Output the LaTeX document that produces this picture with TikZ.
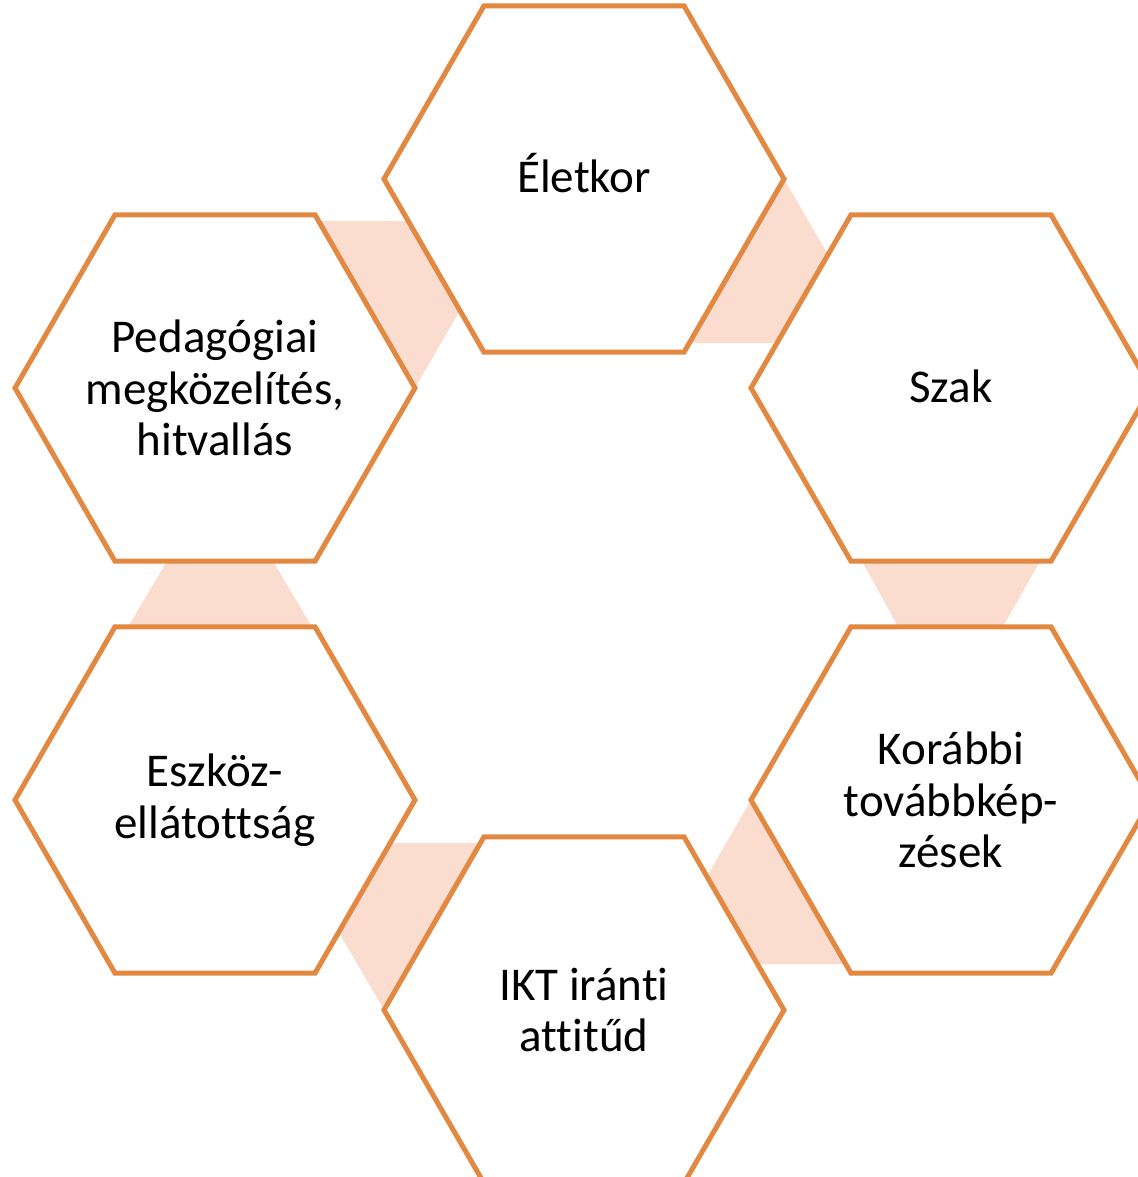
\documentclass[tikz,border=0pt]{standalone}
\usepackage{fontspec}
\setmainfont[Ligatures=NoCommon]{Carlito}
\usetikzlibrary{shapes.geometric,calc,backgrounds}

\definecolor{hexorange}{RGB}{226,136,64}
\definecolor{bandpink}{RGB}{251,221,208}
\newcommand{\hexfont}{\fontsize{23.5pt}{25.75pt}\selectfont}

\begin{document}
\begin{tikzpicture}[
            x=0.5pt, y=-0.5pt,
            hexa/.style={regular polygon, regular polygon sides=6, draw=hexorange, fill=white, line width=2.5pt, minimum size=200pt, inner sep=0pt, outer sep=0pt},
            hextext/.style={align=center, font=\hexfont, inner sep=0pt},
            band/.style={fill=bandpink}
        ]
        \useasboundingbox (0,0) rectangle (1138,1177);
        \clip (0,0) rectangle (1138,1177);

        %hexagons
        \node[hexa]     (eletkor)   at (584,179)    {};
        \node[hexa]     (szak)      at (951,388)    {};
        \node[hexa]     (korabbi)   at (951,800)    {};
        \node[hexa]     (ikt)       at (584,1010)   {};
        \node[hexa]     (eszkoz)    at (215,800)    {};
        \node[hexa]     (pedag)     at (215,388)    {};

        %texts
        \node[hextext]  (eletkor-t) at ($(eletkor)+(0,-6)$) {Életkor};
        \node[hextext]  (szak-t)    at ($(szak)+(0,-2)$)    {Szak};
        \node[hextext]  (korabbi-t) at (korabbi)    {Korábbi\\továbbkép-\\zések};
        \node[hextext]  (ikt-t)     at (ikt)        {IKT iránti\\attitűd};
        \node[hextext]  (eszkoz-t)  at (eszkoz)     {Eszköz-\\ellátottság};
        \node[hextext]  (pedag-t)   at (pedag)      {Pedagógiai\\megközelítés,\\hitvallás};

        %bands between neighbours
        \begin{scope}[on background layer]
            \fill[band] (eletkor.0) -- ++(57,98) -- ++(0,66) -- ++(-180,0) -- cycle;
            \fill[band] ($(szak.270)+(-89,0)$) -- ($(szak.270)+(89,0)$)
                -- ($(korabbi.90)+(52,0)$) -- ($(korabbi.90)+(-53,0)$) -- cycle;
            \fill[band] (korabbi.180) -- ++(-52,90) -- ++(0,74) -- ++(162,0) -- cycle;
            \fill[band] (ikt.180) -- ++(-64,-110) -- ++(0,-57) -- ++(170,0) -- cycle;
            \fill[band] ($(pedag.270)+(-48,0)$) -- ($(pedag.270)+(58,0)$)
                -- ($(eszkoz.90)+(97,0)$) -- ($(eszkoz.90)+(-87,0)$) -- cycle;
            \fill[band] (pedag.0) -- ++(51,-88) -- ++(0,-79) -- ++(-166,0) -- cycle;
        \end{scope}

\end{tikzpicture}
\end{document}
